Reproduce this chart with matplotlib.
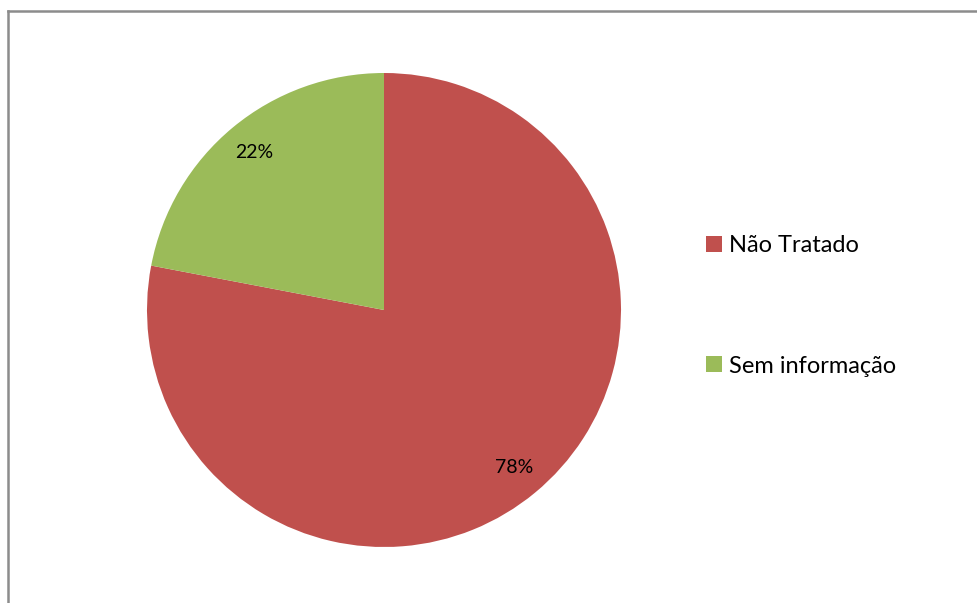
"""
Pie chart of treatment status with a side legend.
"""

import matplotlib.pyplot as plt
from matplotlib.lines import Line2D
from matplotlib.patches import Patch

categories = ["Não Tratado", "Sem informação"]
shares = [78, 22]
colors = ["#C0504D", "#9BBB59"]

W, H = 977, 603
DPI = 100

plt.rcParams["font.family"] = ["Lato", "DejaVu Sans"]

fig = plt.figure(figsize=(W / DPI, H / DPI), dpi=DPI)

# pie area: centre (384, 310) px, radius 237 px
cx, cy, r = 384, 310, 237
ax = fig.add_axes([(cx - r) / W, (H - cy - r) / H, 2 * r / W, 2 * r / H])
ax.pie(
    shares,
    colors=colors,
    startangle=90,
    counterclock=False,
    autopct="%1.0f%%",
    pctdistance=0.86,
    wedgeprops={"linewidth": 0},
    textprops={"fontsize": 14, "color": "black"},
)
ax.set_xlim(-1, 1)
ax.set_ylim(-1, 1)
ax.set_aspect("equal")
ax.axis("off")

# legend on the right
handles = [Patch(facecolor=c, edgecolor="none") for c in colors]
fig.legend(
    handles,
    categories,
    loc="center left",
    bbox_to_anchor=(694 / W, 1 - 306 / H),
    frameon=False,
    fontsize=17,
    handlelength=0.68,
    handleheight=0.68,
    handletextpad=0.3,
    labelspacing=4.2,
    borderpad=0,
)

# outer chart frame (left and top edges visible)
frame = dict(color="#8c8c8c", linewidth=1.8, transform=fig.transFigure)
fig.add_artist(Line2D([7.5 / W, 7.5 / W], [0, 1 - 11 / H], **frame))
fig.add_artist(Line2D([7.5 / W, 1], [1 - 11 / H, 1 - 11 / H], **frame))

fig.savefig("out.png", dpi=DPI)
